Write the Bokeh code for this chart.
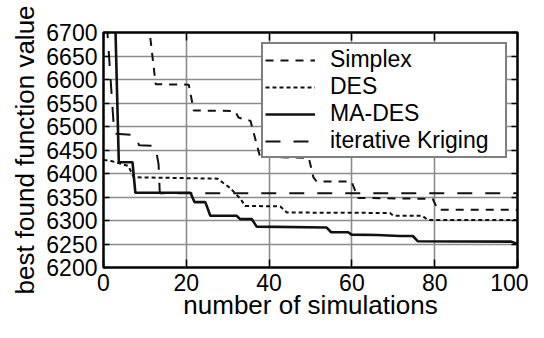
from bokeh.plotting import figure
from bokeh.models import (Legend, LegendItem, LinearAxis, FixedTicker, Range1d,
                          CustomJSTickFormatter)
from bokeh.embed import file_html
from bokeh.resources import INLINE

# ---- data ----
x_ticks = [0, 20, 40, 60, 80, 100]
y_ticks = [6200, 6250, 6300, 6350, 6400, 6450, 6500, 6550, 6600, 6650, 6700]

simplex_x = [10.9, 12.6, 20.6, 21.8, 31.8, 32.6, 35.5, 37.8, 49.6, 50.7, 51.5, 59.9, 61.5, 79.5, 80.8, 100]
simplex_y = [6720, 6590, 6589, 6534, 6533, 6519, 6512, 6436, 6433, 6392, 6383, 6383, 6348, 6346, 6323, 6323]

des_x = [0, 2.1, 6.0, 7.3, 27.5, 30.6, 33.2, 34.2, 42.7, 44.3, 69.2, 70.0, 77.0, 78.4, 100]
des_y = [6429, 6426, 6416, 6392, 6389, 6369, 6345, 6331, 6330, 6317, 6316, 6310, 6310, 6301, 6301]

made_x = [2.85, 3.7, 7.0, 7.7, 21.0, 22.0, 24.6, 25.8, 32.2, 33.0, 35.8, 37.0, 53.9, 55.0, 59.1, 59.9, 66.0, 71.6, 74.7, 75.9, 98.5, 100]
made_y = [6720, 6424, 6424, 6359, 6359, 6339, 6339, 6310, 6310, 6303, 6303, 6287, 6285, 6275, 6275, 6270, 6269, 6267, 6267, 6256, 6255, 6250]

krig_x = [0.8, 2.6, 7.6, 8.6, 12.5, 13.3, 13.6, 100]
krig_y = [6720, 6485, 6482, 6460, 6459, 6420, 6358, 6358]

names = ["Simplex", "DES", "MA-DES", "iterative Kriging"]

FONT = "Liberation Sans"
W, H = 528, 322
FRAME_TOP, FRAME_BOTTOM = 32, 270

p = figure(width=W, height=H, output_backend="svg", toolbar_location=None,
           x_range=Range1d(0, 100), y_range=Range1d(6200, 6700),
           min_border_left=103, min_border_right=11,
           min_border_top=FRAME_TOP, min_border_bottom=H - FRAME_BOTTOM)
p.background_fill_color = "white"
p.border_fill_color = "white"
p.outline_line_color = "black"
p.outline_line_width = 2.5

# axes
for ax in (p.xaxis[0], p.yaxis[0]):
    ax.axis_line_color = None
    ax.major_tick_out = 0
    ax.minor_tick_line_color = None
    ax.major_tick_line_color = "black"
    ax.major_tick_line_width = 1.5
    ax.major_label_text_font = FONT
    ax.major_label_text_font_size = "23px"
    ax.major_label_text_color = "black"
    ax.axis_label_text_font = FONT
    ax.axis_label_text_font_size = "26px"
    ax.axis_label_text_font_style = "normal"
    ax.axis_label_text_color = "black"

p.xaxis[0].ticker = FixedTicker(ticks=x_ticks)
p.yaxis[0].ticker = FixedTicker(ticks=y_ticks)
p.xaxis[0].major_tick_in = 8
p.yaxis[0].major_tick_in = 6
p.xaxis[0].major_label_standoff = 6
p.yaxis[0].major_label_standoff = 6
p.xaxis[0].axis_label = "number of simulations"
p.yaxis[0].axis_label = "best found function value"
p.xaxis[0].axis_label_standoff = -4
p.yaxis[0].axis_label_standoff = 3

blank = CustomJSTickFormatter(code="return ''")
top_ax = LinearAxis(ticker=FixedTicker(ticks=x_ticks), formatter=blank,
                    axis_line_color=None, major_tick_out=0, major_tick_in=8,
                    major_tick_line_width=1.5, minor_tick_line_color=None,
                    major_label_text_font_size="1px", major_label_standoff=0)
right_ax = LinearAxis(ticker=FixedTicker(ticks=y_ticks), formatter=blank,
                      axis_line_color=None, major_tick_out=0, major_tick_in=6,
                      major_tick_line_width=1.5, minor_tick_line_color=None,
                      major_label_text_font_size="1px", major_label_standoff=0)
p.add_layout(top_ax, "above")
p.add_layout(right_ax, "right")

# grid
for g in (p.xgrid[0], p.ygrid[0]):
    g.grid_line_color = "#8c8c8c"
    g.grid_line_width = 1.6

# lines
r_s = p.line(simplex_x, simplex_y, line_color="#111111", line_width=2, line_dash="8 7")
r_d = p.line(des_x, des_y, line_color="#111111", line_width=2, line_dash="4 3")
r_m = p.line(made_x, made_y, line_color="#111111", line_width=2.6)
r_k = p.line(krig_x, krig_y, line_color="#111111", line_width=2, line_dash="15 13")

legend = Legend(items=[LegendItem(label=names[0], renderers=[r_s]),
                       LegendItem(label=names[1], renderers=[r_d]),
                       LegendItem(label=names[2], renderers=[r_m]),
                       LegendItem(label=names[3], renderers=[r_k])],
                location="top_right",
                padding=2, spacing=0, margin=10,
                glyph_width=50, glyph_height=22, label_height=22,
                label_width=173, label_standoff=15,
                label_text_font=FONT, label_text_font_size="23px",
                label_text_color="black",
                border_line_color="black", border_line_width=2,
                background_fill_color="white", background_fill_alpha=1.0)
p.add_layout(legend, "center")

open("out.html", "w").write(file_html(p, INLINE))
